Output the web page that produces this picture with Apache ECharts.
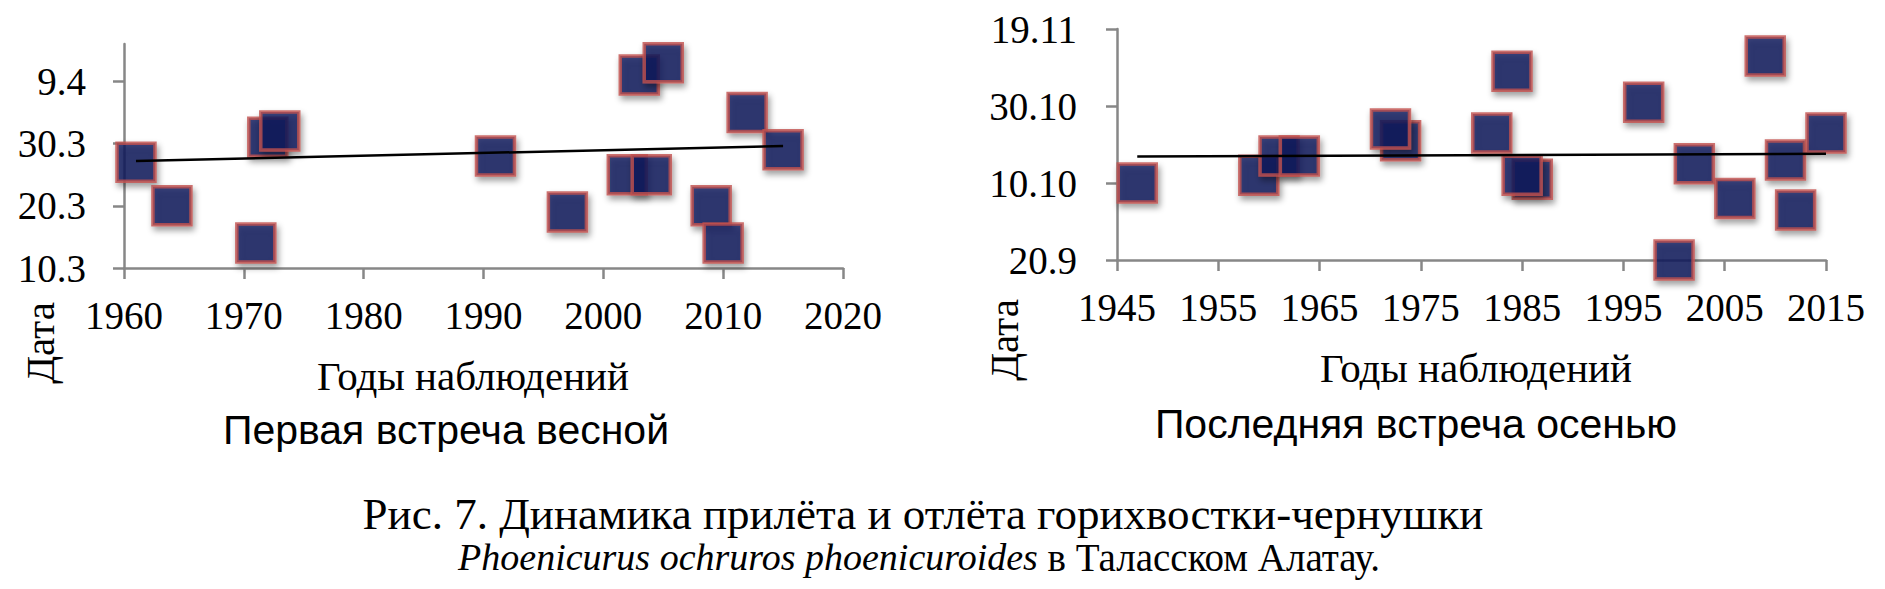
<!DOCTYPE html>
<html>
<head>
<meta charset="utf-8">
<script src="https://cdn.jsdelivr.net/npm/echarts@6/dist/echarts.min.js"></script>
<style>
  html, body { margin: 0; padding: 0; background: #ffffff; }
  #chart { width: 1885px; height: 589px; }
</style>
</head>
<body>
<div id="chart"></div>
<script>
// ---- Left panel: first spring sighting (day counted in March: 10 = 10.3, 40 = 9.4)
var springYears = [1961, 1964, 1971, 1972, 1973, 1991, 1997, 2002, 2003, 2004, 2005, 2009, 2010, 2012, 2015];
var springDays  = [27,   20,   14,   31,   32,   28,   19,   25,   41,   25,   43,   20,   14,   35,   29];
var springTrendYears = [1961, 2015];
var springTrendDays  = [27.2, 29.6];
var springTickValues = [10, 20, 30, 40];
var springTickLabels = ['10.3', '20.3', '30.3', '9.4'];
var springYearTicks  = [1960, 1970, 1980, 1990, 2000, 2010, 2020];

// ---- Right panel: last autumn sighting (day counted from 31 Aug: 20 = 20.9, 80 = 19.11)
var autumnYears = [1947, 1959, 1961, 1963, 1973, 1972, 1982, 1984, 1986, 1985, 1997, 2000, 2002, 2006, 2009, 2011, 2012, 2015];
var autumnDays  = [40,   42,   47,   47,   51,   54,   53,   69,   41,   42,   61,   20,   45,   36,   73,   46,   33,   53];
var autumnTrendYears = [1947, 2015];
var autumnTrendDays  = [46.9, 47.6];
var autumnTickValues = [20, 40, 60, 80];
var autumnTickLabels = ['20.9', '10.10', '30.10', '19.11'];
var autumnYearTicks  = [1945, 1955, 1965, 1975, 1985, 1995, 2005, 2015];

var titles = {
  yName: 'Дата',
  xName: 'Годы наблюдений',
  left: 'Первая встреча весной',
  right: 'Последняя встреча осенью',
  cap1: 'Рис. 7. Динамика прилёта и отлёта горихвостки-чернушки',
  cap2Latin: 'Phoenicurus ochruros phoenicuroides',
  cap2Rest: ' в Таласском Алатау.'
};

function zip(a, b) { return a.map(function (v, i) { return [v, b[i]]; }); }

var SERIF = '"Liberation Serif", "Times New Roman", serif';
var SANS = '"Liberation Sans", Arial, sans-serif';
var AXIS_COLOR = '#878787';

function xAxisCfg(gi, min, max, ticks) {
  return {
    type: 'value', gridIndex: gi, min: min, max: max,
    axisLine: { show: true, onZero: false, lineStyle: { color: AXIS_COLOR, width: 2.5 } },
    axisTick: { show: true, length: 11, customValues: ticks, lineStyle: { color: AXIS_COLOR, width: 2.5 } },
    axisLabel: { customValues: ticks, margin: 28, color: '#000', fontFamily: SERIF, fontSize: 39,
      formatter: function (v) { return String(v); } },
    splitLine: { show: false }
  };
}
function yAxisCfg(gi, min, max, ticks, labels, margin) {
  return {
    type: 'value', gridIndex: gi, min: min, max: max,
    axisLine: { show: true, onZero: false, lineStyle: { color: AXIS_COLOR, width: 2.5 } },
    axisTick: { show: true, length: 11, customValues: ticks, lineStyle: { color: AXIS_COLOR, width: 2.5 } },
    axisLabel: { customValues: ticks, margin: margin, color: '#000', fontFamily: SERIF, fontSize: 39,
      formatter: function (v) { var i = ticks.indexOf(v); return i >= 0 ? labels[i] : ''; } },
    splitLine: { show: false }
  };
}
var markerStyle = {
  color: '#0a1c5c', borderColor: '#c0504d', borderWidth: 3.5,
  shadowColor: 'rgba(0,0,0,0.45)', shadowBlur: 6, shadowOffsetX: 2, shadowOffsetY: 4
};
function scatter(xi, data) {
  return { type: 'scatter', xAxisIndex: xi, yAxisIndex: xi, data: data, symbol: 'rect', symbolSize: 38,
    itemStyle: markerStyle, clip: false, z: 2, emphasis: { disabled: true } };
}
function trend(xi, data) {
  return { type: 'line', xAxisIndex: xi, yAxisIndex: xi, data: data, symbol: 'none',
    lineStyle: { color: '#000', width: 2.5 }, z: 3, silent: true };
}
function txt(x, y, text, font, rot) {
  return { type: 'text', x: x, y: y, rotation: rot || 0,
    style: { text: text, font: font, fill: '#000', align: 'center', verticalAlign: 'middle' } };
}

var chart = echarts.init(document.getElementById('chart'), null, { renderer: 'svg' });
chart.setOption({
  animation: false,
  backgroundColor: '#ffffff',
  grid: [
    { left: 124, top: 44, width: 719, height: 224 },
    { left: 1117, top: 29, width: 709, height: 231 }
  ],
  xAxis: [
    xAxisCfg(0, 1960, 2020, springYearTicks),
    xAxisCfg(1, 1945, 2015, autumnYearTicks)
  ],
  yAxis: [
    yAxisCfg(0, 10, 46, springTickValues, springTickLabels, 38),
    yAxisCfg(1, 20, 80, autumnTickValues, autumnTickLabels, 40)
  ],
  series: [
    scatter(0, zip(springYears, springDays)),
    trend(0, zip(springTrendYears, springTrendDays)),
    scatter(1, zip(autumnYears, autumnDays)),
    trend(1, zip(autumnTrendYears, autumnTrendDays))
  ],
  graphic: [
    txt(40, 343, titles.yName, '41px ' + SERIF, Math.PI / 2),
    txt(1004, 340, titles.yName, '41px ' + SERIF, Math.PI / 2),
    txt(473, 376, titles.xName, '41px ' + SERIF),
    txt(1476, 368, titles.xName, '41px ' + SERIF),
    txt(446, 430, titles.left, '41px ' + SANS),
    txt(1416, 424, titles.right, '41px ' + SANS),
    txt(923, 514, titles.cap1, '45px ' + SERIF),
    { type: 'text', x: 919, y: 557,
      style: { text: '{i|' + titles.cap2Latin + '}{r|' + titles.cap2Rest + '}',
        fontFamily: SERIF, fontSize: 39, fill: '#000', align: 'center', verticalAlign: 'middle',
        rich: {
          i: { fontFamily: SERIF, fontSize: 38, fontStyle: 'italic', fill: '#000' },
          r: { fontFamily: SERIF, fontSize: 39, fill: '#000' }
        } } }
  ]
});
</script>
</body>
</html>
